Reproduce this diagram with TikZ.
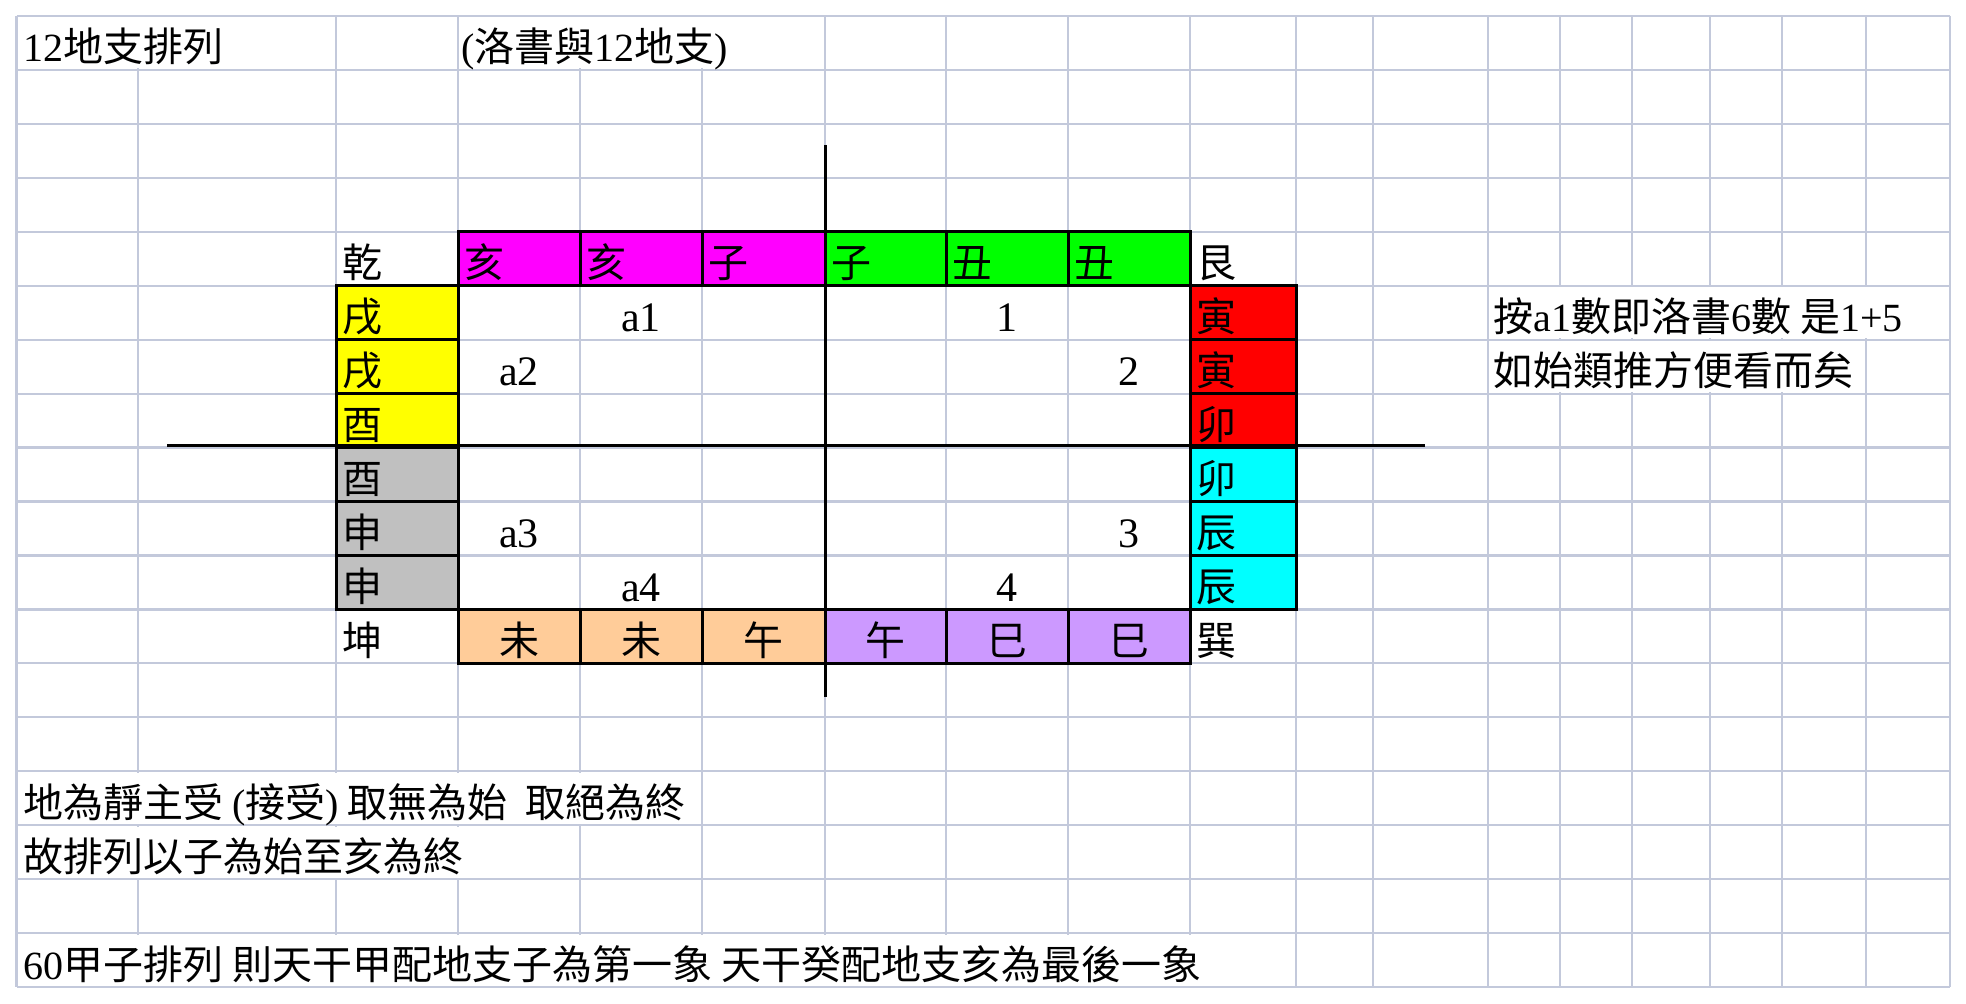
\documentclass[tikz,border=0pt]{standalone}
\usepackage{fontspec}
\setmainfont{Liberation Serif}
\newfontfamily\cjk{Noto Sans CJK TC}
\newcommand\lat[1]{{\rmfamily #1}}
\usetikzlibrary{calc}

\definecolor{gridline}{RGB}{195,201,219}
\definecolor{zmag}{RGB}{255,0,255}
\definecolor{zgreen}{RGB}{0,255,0}
\definecolor{zyel}{RGB}{255,255,0}
\definecolor{zgray}{RGB}{192,192,192}
\definecolor{zred}{RGB}{255,0,0}
\definecolor{zcyan}{RGB}{0,255,255}
\definecolor{zpeach}{RGB}{255,204,153}
\definecolor{zlav}{RGB}{204,153,255}

\tikzset{
  gridl/.style={draw=gridline,line width=1.1pt},
  mask/.style={fill=white},
  zhibox/.style={draw=black,line width=1.5pt},
  zhi/.style={font=\cjk\fontsize{20}{24}\selectfont,inner sep=0pt,anchor=base west},
  zhic/.style={zhi,anchor=base},
  num/.style={font=\rmfamily\fontsize{21}{24}\selectfont,inner sep=0pt,anchor=base},
  axisl/.style={line width=1.5pt}
}

\begin{document}
\begin{tikzpicture}[x=0.5pt,y=-0.5pt]
\useasboundingbox (0,0) rectangle (1966,1004);

% sheet grid
\foreach \k in {0,...,18}
  \draw[gridl] (16.5,{16+53.95*\k}) -- (1950,{16+53.95*\k});
\foreach \x in {16.5,138,336,458,580,702,825,946,1068,1190,1296,1373,1488,1560,1632,1710,1782,1866,1950}
  \draw[gridl] (\x,16) -- (\x,987.1);

% text running over the next cells
\fill[mask] (20,17.5) rectangle (330,68.5);
\fill[mask] (462,17.5) rectangle (820,68.5);
\fill[mask] (1492,287.2) rectangle (1944,338.2);
\fill[mask] (1492,341.2) rectangle (1860,392.2);
\fill[mask] (20,772.8) rectangle (698,823.8);
\fill[mask] (20,826.7) rectangle (576,877.7);
\fill[mask] (20,934.6) rectangle (1290,985.6);

% top row
\foreach \xa/\xb/\fc/\lbl [count=\i] in {458/580/zmag/亥,580/702/zmag/亥,702/825/zmag/子,825/946/zgreen/子,946/1068/zgreen/丑,1068/1190/zgreen/丑}{
  \draw[zhibox,fill=\fc] (\xa,231.8) rectangle (\xb,285.75);
  \node[zhi] (top\i) at ({\xa+6},277.8) {\lbl};
}
% left column
\foreach \ya/\fc/\lbl [count=\i] in {285.75/zyel/戌,339.7/zyel/戌,393.65/zyel/酉,447.6/zgray/酉,501.55/zgray/申,555.5/zgray/申}{
  \draw[zhibox,fill=\fc] (336,\ya) rectangle (458,{\ya+53.95});
  \node[zhi] (west\i) at (342,{\ya+46}) {\lbl};
}
% right column
\foreach \ya/\fc/\lbl [count=\i] in {285.75/zred/寅,339.7/zred/寅,393.65/zred/卯,447.6/zcyan/卯,501.55/zcyan/辰,555.5/zcyan/辰}{
  \draw[zhibox,fill=\fc] (1190,\ya) rectangle (1296,{\ya+53.95});
  \node[zhi] (east\i) at (1196,{\ya+46}) {\lbl};
}
% bottom row
\foreach \xa/\xb/\fc/\lbl [count=\i] in {458/580/zpeach/未,580/702/zpeach/未,702/825/zpeach/午,825/946/zlav/午,946/1068/zlav/巳,1068/1190/zlav/巳}{
  \draw[zhibox,fill=\fc] (\xa,609.45) rectangle (\xb,663.4);
  \node[zhic] (south\i) at ({(\xa+\xb)/2},655.4) {\lbl};
}

% corners
\node[zhi] (qian) at (342,277.8) {乾};
\node[zhi] (gen) at (1196,277.8) {艮};
\node[zhi] (kun) at (342,655.4) {坤};
\node[zhi] (xun) at (1196,655.4) {巽};

% numbers inside
\node[num] (na1) at (641,331.75) {a1};
\node[num] (n1) at (1007,331.75) {1};
\node[num] (na2) at (519,385.7) {a2};
\node[num] (n2) at (1129,385.7) {2};
\node[num] (na3) at (519,547.55) {a3};
\node[num] (n3) at (1129,547.55) {3};
\node[num] (na4) at (641,601.5) {a4};
\node[num] (n4) at (1007,601.5) {4};

% axes
\coordinate (ntop) at (825,145);
\coordinate (nbot) at (825,697);
\coordinate (wend) at (167,446);
\coordinate (eend) at (1425,446);
\draw[axisl] (ntop) -- (nbot);
\draw[axisl] (wend) -- (eend);

% notes
\node[zhi] (title) at (23,62) {\lat{12}地支排列};
\node[zhi] (subtitle) at (461,62) {\lat{(}洛書與\lat{12}地支\lat{)}};
\node[zhi] (note1) at (1493,331.75) {按\lat{a1}數即洛書\lat{6}數 是\lat{1+5}};
\node[zhi] (note2) at (1493,385.7) {如始類推方便看而矣};
\node[zhi] (rule1) at (23,817.3) {地為靜主受 \lat{(}接受\lat{)} 取無為始\ \ 取絕為終};
\node[zhi] (rule2) at (23,871.25) {故排列以子為始至亥為終};
\node[zhi] (rule3) at (23,979.15) {\lat{60}甲子排列 則天干甲配地支子為第一象 天干癸配地支亥為最後一象};
\end{tikzpicture}
\end{document}
